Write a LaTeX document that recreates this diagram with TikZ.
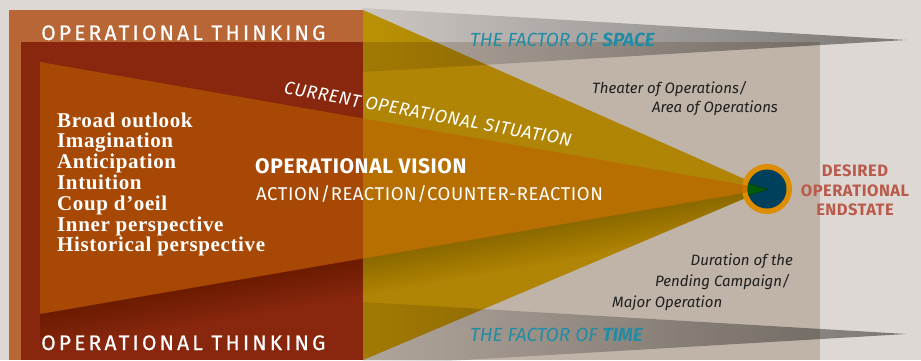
\documentclass[tikz,border=0pt]{standalone}
\usepackage{fontspec}
\setmainfont{Fira Sans}
\newfontfamily\widecaps{Fira Sans}[LetterSpace=15,FakeBold=0.5]
\newfontfamily\trackcaps{Fira Sans}[LetterSpace=3]
\newfontfamily\bookserif{Liberation Serif}[LetterSpace=3]
\usepackage{tikz}
\usetikzlibrary{fadings}

\definecolor{PaperGrey}{RGB}{222,216,212}
\definecolor{FrameOrange}{RGB}{185,102,55}
\definecolor{FrameRed}{RGB}{136,39,13}
\definecolor{FieldTan}{RGB}{192,180,169}
\definecolor{SituationGold}{RGB}{234,188,8}
\definecolor{VisionOrange}{RGB}{189,97,0}
\definecolor{RingOrange}{RGB}{222,140,0}
\definecolor{GoalBlue}{RGB}{0,64,92}
\definecolor{AimGreen}{RGB}{0,90,10}
\definecolor{FactorTeal}{RGB}{35,140,165}
\definecolor{GoalRed}{RGB}{185,90,75}
\definecolor{NoteInk}{RGB}{30,30,30}

\tikzfading[name=factorfade, left color=transparent!92, right color=transparent!55]

\tikzset{
  thinking/.style={text=white, inner sep=0, anchor=base west, font=\widecaps\fontsize{21}{24}\selectfont},
  trait/.style={text=white, inner sep=0, anchor=base west, font=\bookserif\bfseries\fontsize{21}{24}\selectfont},
  factor/.style={text=FactorTeal, inner sep=0, anchor=base west, font=\itshape\fontsize{19}{22}\selectfont},
  note/.style={text=NoteInk, inner sep=0, font=\itshape\fontsize{15}{18}\selectfont},
  factorwedge/.style={fill=black, path fading=factorfade}
}

\begin{document}
\begin{tikzpicture}[x=1pt,y=-1pt]
\useasboundingbox (0,0) rectangle (921,360);
\fill[PaperGrey] (0,0) rectangle (921,360);

% frames of thinking and the field
\fill[FrameOrange] (9,10) rectangle (363,360);
\fill[FrameRed] (21,42) rectangle (363,360);
\fill[FieldTan] (363,42) rectangle (820,360);

\coordinate (goal) at (767,189);
\coordinate (sit top) at (363,10);
\coordinate (sit bot) at (363,360);
\coordinate (vis top) at (40,62);
\coordinate (vis bot) at (40,314);

% current situation
\fill[SituationGold, blend mode=multiply] (sit top) -- (goal) -- (sit bot) -- cycle;

% space and time
\fill[factorwedge] (363,8) -- (907,40) -- (363,72) -- cycle;
\fill[factorwedge] (363,302) -- (907,334) -- (363,366) -- cycle;

% soft shadow under the vision wedge
\begin{scope}
  \clip (21,42) -- (363,42) -- (sit top) -- (goal) -- (sit bot) -- (21,360) -- cycle;
  \foreach \d in {3,6,...,36}
    \fill[black, opacity=0.017] (vis bot) -- (goal) -- ++(0,\d) -- (40,{314+\d}) -- cycle;
\end{scope}

% end state
\fill[RingOrange] (goal) circle (25);
\fill[VisionOrange, opacity=0.6] (vis top) -- (goal) -- (vis bot) -- cycle;
\fill[GoalBlue] (goal) circle (19.5);
\begin{scope}
  \clip (goal) circle (19.5);
  \fill[AimGreen, draw=AimGreen!60!black] (740,181) -- (768,189.5) -- (740,198) -- cycle;
\end{scope}

% labels
\node[thinking] (think top) at (41,40) {OPERATIONAL THINKING};
\node[thinking] (think bot) at (41,350) {OPERATIONAL THINKING};

\foreach \t [count=\i] in {Broad outlook, Imagination, Anticipation, Intuition, Coup d’oeil, Inner perspective, Historical perspective}
  \node[trait] (trait-\i) at (57,{127+20.8*(\i-1)}) {\t};

\node[text=white, inner sep=0, anchor=base west, font=\trackcaps\bfseries\fontsize{21}{24}\selectfont] (vision) at (255,173) {OPERATIONAL VISION};
\node[text=white, inner sep=0, anchor=base west, font=\trackcaps\fontsize{18.5}{22}\selectfont] (action) at (256,200) {ACTION/REACTION/COUNTER-REACTION};
\node[text=white, inner sep=0, rotate=-10.4, font=\trackcaps\itshape\fontsize{18}{22}\selectfont] (situation) at (428,114) {CURRENT OPERATIONAL SITUATION};

\node[factor] (space) at (470,46.5) {THE FACTOR OF \textbf{SPACE}};
\node[factor] (time) at (470,341) {THE FACTOR OF \textbf{TIME}};

\node[note, anchor=base west] (theater) at (592,93) {Theater of Operations/};
\node[note, anchor=base west] (area) at (652,112) {Area of Operations};
\node[note, anchor=base east] (duration) at (793,265) {Duration of the};
\node[note, anchor=base east] (campaign) at (790,286) {Pending Campaign/};
\node[note, anchor=base west] (major) at (612,307) {Major Operation};

\node[text=GoalRed, inner sep=0, anchor=north, align=center, font=\trackcaps\bfseries\fontsize{16.5}{19.2}\selectfont] (endstate) at (855,165) {DESIRED\\OPERATIONAL\\ENDSTATE};
\end{tikzpicture}
\end{document}
